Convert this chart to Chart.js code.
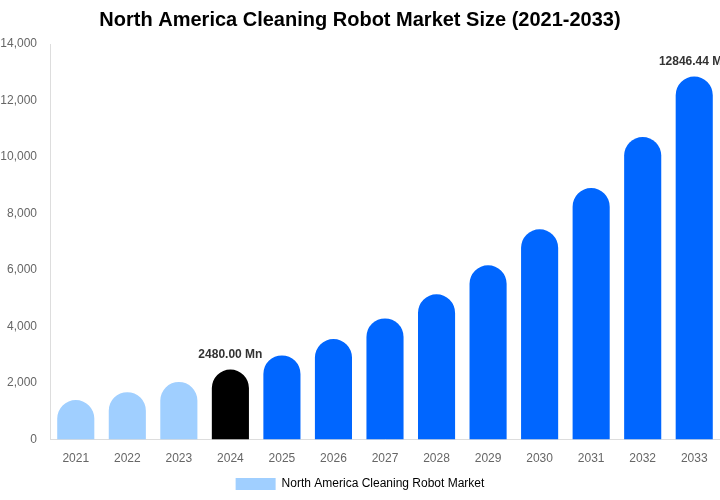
<!DOCTYPE html>
<html>
<head>
<meta charset="utf-8">
<script src="https://cdn.jsdelivr.net/npm/chart.js@4"></script>
<style>
  body { margin: 0; background: #fff; }
  #wrap { width: 720px; height: 500px; }
</style>
</head>
<body>
<div id="wrap"><canvas id="myChart" width="720" height="500"></canvas></div>
<script>
// Market size by year (USD Mn)
const years = ["2021", "2022", "2023", "2024", "2025", "2026", "2027", "2028", "2029", "2030", "2031", "2032", "2033"];
const marketSize = [1400, 1680, 2040, 2480, 2980, 3560, 4290, 5140, 6170, 7440, 8900, 10710, 12846.44];
const barColors = ["#a0cfff", "#a0cfff", "#a0cfff", "#000000", "#0066ff", "#0066ff", "#0066ff", "#0066ff", "#0066ff", "#0066ff", "#0066ff", "#0066ff", "#0066ff"];
const labelledYears = ["2024", "2033"];

// value labels above selected bars
const valueLabels = {
    id: 'valueLabels',
    afterDatasetsDraw(chart) {
        const ctx = chart.ctx;
        const meta = chart.getDatasetMeta(0);
        ctx.save();
        ctx.font = "bold 12px Arial, 'Liberation Sans'";
        ctx.fillStyle = "#333";
        ctx.textAlign = "center";
        ctx.textBaseline = "bottom";
        meta.data.forEach((bar, i) => {
            if (labelledYears.includes(years[i])) {
                ctx.fillText(marketSize[i].toFixed(2) + " Mn", bar.x, bar.y - 9);
            }
        });
        ctx.restore();
    }
};

const ctx = document.getElementById('myChart');
new Chart(ctx, {
    type: 'bar',
    data: {
        labels: years,
        datasets: [{
            label: 'North America Cleaning Robot Market',
            data: marketSize,
            backgroundColor: barColors,
            borderRadius: { topLeft: 30, topRight: 30 },
            borderSkipped: 'bottom',
            barPercentage: 0.8,
            categoryPercentage: 0.9
        }]
    },
    options: {
        responsive: false,
        animation: false,
        layout: { padding: { left: 0, right: 0, top: 0, bottom: 0 } },
        plugins: {
            title: {
                display: true,
                text: 'North America Cleaning Robot Market Size (2021-2033)',
                color: '#000',
                font: { family: "Arial, 'Liberation Sans'", size: 20, weight: 'bold' },
                padding: { top: 8, bottom: 12 }
            },
            legend: {
                position: 'bottom',
                labels: {
                    color: '#555',
                    boxWidth: 40,
                    boxHeight: 12,
                    padding: 8,
                    font: { family: "Arial, 'Liberation Sans'", size: 12 },
                    generateLabels: () => [{
                        text: 'North America Cleaning Robot Market',
                        fillStyle: '#a0cfff',
                        strokeStyle: '#a0cfff',
                        lineWidth: 0,
                        datasetIndex: 0
                    }]
                }
            },
            tooltip: { enabled: false }
        },
        scales: {
            x: {
                grid: { display: false },
                border: { color: '#ddd' },
                ticks: { color: '#666', font: { family: "Arial, 'Liberation Sans'", size: 12 }, padding: 4 }
            },
            y: {
                beginAtZero: true,
                max: 14000,
                grid: { display: false },
                border: { color: '#ddd' },
                afterFit: s => { s.width = 50; },
                ticks: {
                    stepSize: 2000,
                    color: '#666',
                    padding: 5,
                    font: { family: "Arial, 'Liberation Sans'", size: 12 },
                    callback: v => v.toLocaleString('en-US')
                }
            }
        }
    },
    plugins: [valueLabels]
});
</script>
</body>
</html>
